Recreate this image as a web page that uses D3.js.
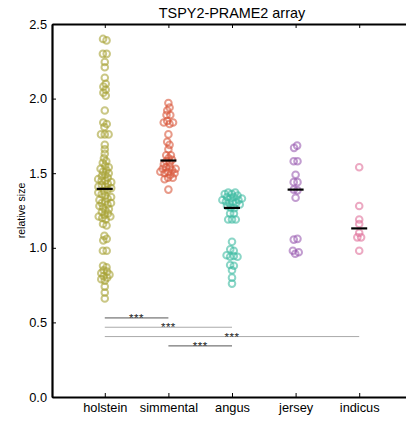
<!DOCTYPE html>
<html>
<head>
<meta charset="utf-8">
<script src="https://cdn.jsdelivr.net/npm/d3@7"></script>
<style>
  body { margin: 0; background: #fff; }
  text { font-family: "Liberation Sans", Arial, Helvetica, sans-serif; }
</style>
</head>
<body>
<script>
// chart data
var breeds = ["holstein", "simmental", "angus", "jersey", "indicus"];
var colors = ["#a6a233", "#d8563a", "#3dbba2", "#9a5cb0", "#e0709a"];

var holstein = [2.40, 2.39, 2.30, 2.30, 2.245, 2.21, 2.14, 2.10, 2.08, 2.06, 2.04, 2.02,
  1.92, 1.84, 1.83, 1.81, 1.76, 1.76, 1.76, 1.69, 1.66, 1.63,
  1.60, 1.58, 1.57, 1.55, 1.54, 1.53, 1.52, 1.51, 1.50, 1.49, 1.48, 1.47, 1.46, 1.45,
  1.45, 1.44, 1.43, 1.42, 1.41, 1.41, 1.40,
  1.39, 1.38, 1.37, 1.36, 1.35, 1.34, 1.33, 1.32, 1.31, 1.30, 1.30, 1.29, 1.28, 1.27,
  1.26, 1.25, 1.24, 1.23, 1.22, 1.21, 1.21, 1.20, 1.19,
  1.16, 1.15, 1.08, 1.06, 1.05, 0.98, 0.98, 0.88, 0.87, 0.85, 0.84, 0.83, 0.82, 0.81,
  0.80, 0.79, 0.78, 0.74, 0.70, 0.66];
var simmental = [1.97, 1.94, 1.92, 1.89, 1.89, 1.85, 1.84, 1.84, 1.83, 1.76, 1.71, 1.69,
  1.66, 1.62, 1.62, 1.60, 1.59, 1.58, 1.57, 1.56, 1.54, 1.54, 1.53, 1.53, 1.52, 1.51,
  1.51, 1.50, 1.50, 1.49, 1.47, 1.47, 1.46, 1.39];
var angus = [1.37, 1.37, 1.36, 1.36, 1.35, 1.34, 1.34, 1.33, 1.33, 1.32, 1.32, 1.31, 1.31,
  1.30, 1.30, 1.29, 1.28, 1.27, 1.265, 1.23, 1.23, 1.19, 1.19, 1.19,
  1.04, 0.99, 0.98, 0.95, 0.945, 0.94, 0.94, 0.885, 0.88, 0.85, 0.80, 0.76];
var jersey = [1.685, 1.67, 1.58, 1.58, 1.49, 1.44, 1.44, 1.39, 1.385, 1.335,
  1.06, 1.055, 0.98, 0.97, 0.96];
var indicus = [1.54, 1.28, 1.19, 1.16, 1.10, 1.07, 1.07, 0.98];

var yTicks = [0.0, 0.5, 1.0, 1.5, 2.0, 2.5];

// significance comparisons (pairs of breeds) and their labels
var pairs = [["holstein", "simmental"], ["holstein", "angus"], ["holstein", "indicus"], ["simmental", "angus"]];
var pairLabels = ["***", "***", "***", "***"];

var values = [holstein, simmental, angus, jersey, indicus];

// sizes and spacing (no "top" here, window.top is read only)
var width = 406, height = 422;
var plotLeft = 52, plotRight = 412, plotTop = 24, plotBottom = 397;
var tickFont = "12.8px";

var svg = d3.select("body").append("svg")
  .attr("width", width)
  .attr("height", height);

var x = d3.scaleLinear().domain([-0.83, 4.83]).range([plotLeft, plotRight]);
var y = d3.scaleLinear().domain([0, 2.5]).range([plotBottom, plotTop]);

// title and y label
svg.append("text")
  .attr("x", (plotLeft + plotRight) / 2)
  .attr("y", 18)
  .attr("text-anchor", "middle")
  .style("font-size", "14.4px")
  .text("TSPY2-PRAME2 array");

svg.append("text")
  .attr("transform", "translate(25," + ((plotTop + plotBottom) / 2) + ") rotate(-90)")
  .attr("text-anchor", "middle")
  .style("font-size", "10.5px")
  .text("relative size");

// beeswarm layout: y fixed, x pushed apart
var nodes = [];
values.forEach(function(arr, gi) {
  arr.forEach(function(v) {
    nodes.push({ group: gi, value: v, x: x(gi), fy: y(v) });
  });
});

var sim = d3.forceSimulation(nodes)
  .force("x", d3.forceX(function(d) { return x(d.group); }).strength(0.3))
  .force("collide", d3.forceCollide(1.9))
  .stop();
for (var i = 0; i < 250; i++) sim.tick();

svg.append("g").selectAll("circle")
  .data(nodes)
  .enter()
  .append("circle")
  .attr("cx", function(d) { return d.x; })
  .attr("cy", function(d) { return d.fy; })
  .attr("r", 3.3)
  .attr("fill", "none")
  .attr("stroke", function(d) { return colors[d.group]; })
  .attr("stroke-width", 2)
  .attr("stroke-opacity", 0.6);

// median bars
svg.append("g").selectAll("line")
  .data(values)
  .enter()
  .append("line")
  .attr("x1", function(d, i) { return x(i) - 8; })
  .attr("x2", function(d, i) { return x(i) + 8; })
  .attr("y1", function(d) { return y(d3.median(d)); })
  .attr("y2", function(d) { return y(d3.median(d)); })
  .attr("stroke", "#000")
  .attr("stroke-width", 2.2);

// significance lines
var sig = svg.append("g");
pairs.forEach(function(p, i) {
  var a = breeds.indexOf(p[0]), b = breeds.indexOf(p[1]);
  var ly = y(0.53 - i * 0.0625);
  sig.append("line")
    .attr("x1", x(a)).attr("x2", x(b))
    .attr("y1", ly).attr("y2", ly)
    .attr("stroke", (i == 0 || i == 3) ? "#555" : "#aaa")
    .attr("stroke-width", 1);
  sig.append("text")
    .attr("x", (x(a) + x(b)) / 2)
    .attr("y", ly + 4)
    .attr("text-anchor", "middle")
    .attr("fill", "#222")
    .style("font-size", "11.5px")
    .style("letter-spacing", "0.5px")
    .text(pairLabels[i]);
});

// axes
var yAxis = d3.axisLeft(y).tickValues(yTicks).tickFormat(d3.format(".1f"))
  .tickSizeInner(-4).tickSizeOuter(0).tickPadding(5);
var gy = svg.append("g").attr("transform", "translate(" + plotLeft + ",0)").call(yAxis);

var xAxis = d3.axisBottom(x).tickValues(d3.range(breeds.length))
  .tickFormat(function(d) { return breeds[d]; })
  .tickSizeInner(-4).tickSizeOuter(0).tickPadding(6);
var gx = svg.append("g").attr("transform", "translate(0," + plotBottom + ")").call(xAxis);

var xTop = d3.axisTop(x).tickValues(d3.range(breeds.length))
  .tickFormat("").tickSizeInner(-4).tickSizeOuter(0);
var gt = svg.append("g").attr("transform", "translate(0," + plotTop + ")").call(xTop);

var yRight = d3.axisRight(y).tickValues(yTicks).tickFormat("")
  .tickSizeInner(-4).tickSizeOuter(0);
var gr = svg.append("g").attr("transform", "translate(" + plotRight + ",0)").call(yRight);

[gy, gx, gt, gr].forEach(function(g) {
  g.select(".domain").attr("stroke-width", 2.2);
  g.selectAll("text").style("font-size", tickFont).attr("fill", "#000")
    .style("font-family", "'Liberation Sans', Arial, sans-serif");
});
</script>
</body>
</html>
